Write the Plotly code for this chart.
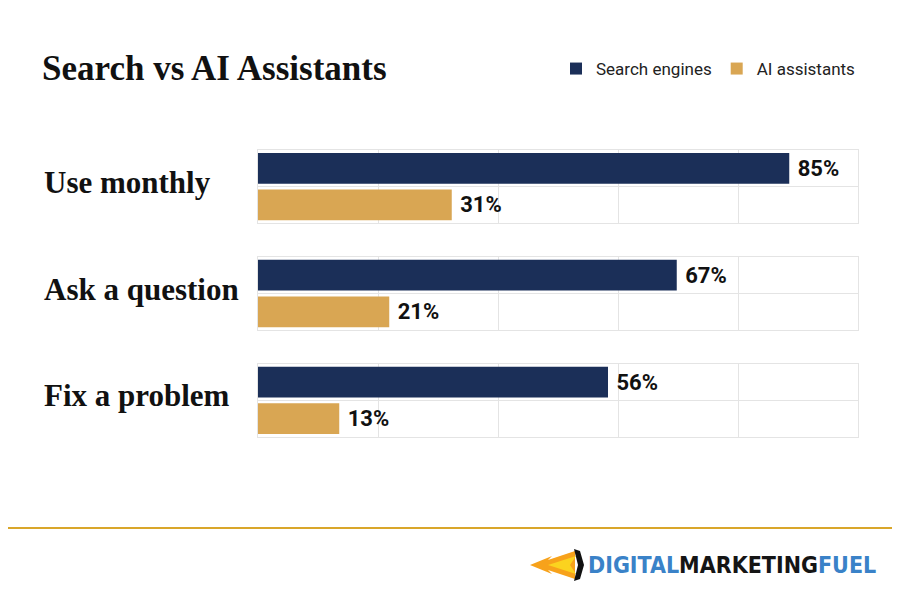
import plotly.graph_objects as go
from plotly.subplots import make_subplots

# data
groups = ["Use monthly", "Ask a question", "Fix a problem"]
series = ["Search engines", "AI assistants"]
search_engines = [85, 67, 56]
ai_assistants = [31, 21, 13]
bar_colors = {"Search engines": "#1b2f58", "AI assistants": "#d9a653"}

# page has an 8px body margin, so the figure is drawn 8px in
OFF = 8
W, H = 900 - 2 * OFF, 600 - 2 * OFF
L, R, T, B = 258 - OFF, W - (858 - OFF), 150 - OFF, H - (437 - OFF)
pw, ph = W - L - R, H - T - B


def px_x(x):
    # screen pixel -> paper x
    return (x - OFF - L) / pw


def px_y(y):
    # screen pixel -> paper y
    return (H - B - (y - OFF)) / ph


fig = make_subplots(rows=3, cols=1, vertical_spacing=0.117)

for i, g in enumerate(groups):
    vals = {"Search engines": search_engines[i], "AI assistants": ai_assistants[i]}
    for s in series:
        fig.add_trace(go.Bar(
            x=[vals[s]], y=[s], orientation="h", name=s,
            marker=dict(color=bar_colors[s], line=dict(width=0)),
            width=0.84, showlegend=(i == 0), legendgroup=s,
            text=[f" {vals[s]}%"], textposition="outside", cliponaxis=False,
            textfont=dict(family="Roboto", size=22, color="#111111", weight="bold"),
            hoverinfo="skip",
        ), row=i + 1, col=1)
    yref = "y domain" if i == 0 else f"y{i + 1} domain"
    fig.add_annotation(text=g, xref="paper", yref=yref, x=px_x(42), y=0.56,
                       xanchor="left", yanchor="middle", showarrow=False,
                       font=dict(family="Liberation Serif", size=31, color="#111111", weight="bold"))

fig.update_xaxes(range=[0, 96], tick0=0, dtick=19.2, showticklabels=False, ticks="",
                 showgrid=True, gridcolor="#e4e4e4", gridwidth=1, zeroline=False,
                 showline=True, mirror=True, linecolor="#e4e4e4", linewidth=1)
fig.update_yaxes(type="category", categoryorder="array", categoryarray=series,
                 autorange="reversed", tickson="boundaries", showticklabels=False, ticks="",
                 showgrid=True, gridcolor="#e4e4e4", gridwidth=1,
                 showline=True, mirror=True, linecolor="#e4e4e4", linewidth=1)

# bottom gold rule
fig.add_shape(type="line", xref="paper", yref="paper", x0=px_x(0), x1=px_x(900),
              y0=px_y(528), y1=px_y(528), line=dict(color="#d9a62a", width=2))


# logo flame
def path(points):
    return "M " + " L ".join(f"{px_x(x)},{px_y(y)}" for x, y in points) + " Z"


fig.add_shape(type="path", xref="paper", yref="paper",
              path=path([(530, 565), (552, 556), (548, 560), (575, 551), (575, 579), (548, 570), (552, 574)]),
              fillcolor="#f7a21b", line=dict(width=0))
fig.add_shape(type="path", xref="paper", yref="paper",
              path=path([(548, 565), (576, 556), (570, 565), (576, 574)]),
              fillcolor="#fbd31f", line=dict(width=0))
fig.add_shape(type="path", xref="paper", yref="paper",
              path=path([(574, 549), (580, 551), (584, 565), (580, 579), (574, 581), (578, 565)]),
              fillcolor="#111111", line=dict(width=0))

fig.add_annotation(
    text='<span style="color:#3a82c8">DIGITAL</span><span style="color:#151515">MARKETING</span>'
         '<span style="color:#3a82c8">FUEL</span>',
    xref="paper", yref="paper", x=px_x(878), y=px_y(565), xanchor="right", yanchor="middle",
    showarrow=False,
    font=dict(family="DejaVu Sans Condensed, Roboto", size=23, weight="bold"))

fig.update_layout(
    width=W, height=H, margin=dict(l=L, r=R, t=T, b=B),
    paper_bgcolor="white", plot_bgcolor="white", barmode="group", bargap=0.1,
    title=dict(text="<b>Search vs AI Assistants</b>", x=(42 - OFF) / W, xanchor="left",
               xref="container", y=1 - (68 - OFF) / H, yanchor="middle",
               font=dict(family="Liberation Serif", size=35, color="#111111")),
    legend=dict(orientation="h", xref="container", yref="container", x=(860 - OFF) / W,
                xanchor="right", y=1 - (69 - OFF) / H, yanchor="middle",
                font=dict(family="Roboto", size=17, color="#222222"),
                itemwidth=30, traceorder="normal"),
    showlegend=True,
)

fig.write_html("out.html")
